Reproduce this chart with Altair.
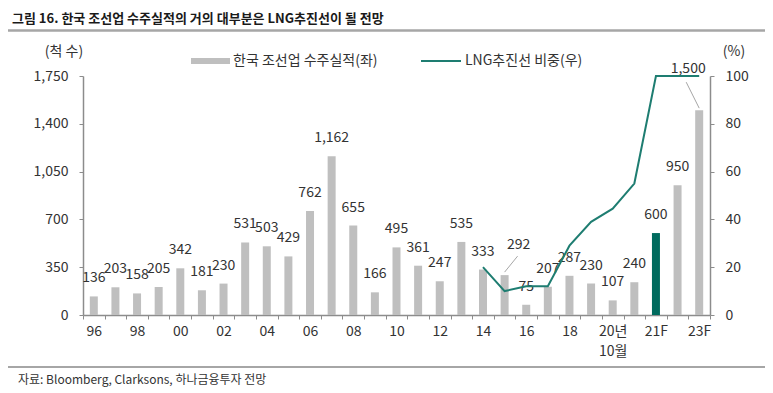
import json
import altair as alt
import pandas as pd

# ---------------- data ----------------
categories = ["96", "97", "98", "99", "00", "01", "02", "03", "04", "05", "06", "07",
              "08", "09", "10", "11", "12", "13", "14", "15", "16", "17", "18", "19",
              "20년10월", "20F", "21F", "22F", "23F"]
orders = [136, 203, 158, 205, 342, 181, 230, 531, 503, 429, 762, 1162, 655, 166,
          495, 361, 247, 535, 333, 292, 75, 207, 287, 230, 107, 240, 600, 950, 1500]
lng_share = [None] * 18 + [20, 10, 12, 12, 29, 39, 44.5, 55, 100, 100, 100]
highlight = ["21F"]
shown_labels = ["96", "98", "00", "02", "04", "06", "08", "10", "12", "14", "16", "18",
                "20년10월", "21F", "23F"]
left_ticks = [0, 350, 700, 1050, 1400, 1750]
right_ticks = [0, 20, 40, 60, 80, 100]

title_text = "그림 16. 한국 조선업 수주실적의 거의 대부분은 LNG추진선이 될 전망"
source_text = "자료: Bloomberg, Clarksons, 하나금융투자 전망"
bar_series = "한국 조선업 수주실적(좌)"
line_series = "LNG추진선 비중(우)"

df = pd.DataFrame({"cat": categories, "orders": orders, "lng": lng_share})
df["hl"] = df["cat"].isin(highlight)

FONT = "Noto Sans CJK KR"
GRAY = "#BFBFBF"
TEAL_BAR = "#006B5E"
TEAL_LINE = "#1E7D71"
AXIS_GRAY = "#8C8C8C"
TXT = "#333333"

W, H = 627, 239

label_expr = (
    "datum.label == '20년10월' ? ['20년', '10월'] : "
    f"(indexof({json.dumps(shown_labels, ensure_ascii=False)}, datum.label) >= 0 ? datum.label : '')"
)

x_enc = alt.X(
    "cat:N", sort=categories,
    scale=alt.Scale(paddingInner=0, paddingOuter=0),
    axis=alt.Axis(title=None, labelAngle=0, tickBand="extent",
                  labelExpr=label_expr, labelLineHeight=20, labelPadding=5,
                  tickSize=4, domainColor=AXIS_GRAY, tickColor=AXIS_GRAY,
                  domainWidth=1.5, labelFontSize=14, labelColor=TXT, labelFont=FONT,
                  labelBaseline="top"),
)
y_left = alt.Y(
    "orders:Q", scale=alt.Scale(domain=[0, 1750], nice=False),
    axis=alt.Axis(title=None, values=left_ticks, format=",d", grid=False, tickSize=4,
                  labelPadding=11, domainColor=AXIS_GRAY, tickColor=AXIS_GRAY,
                  domainWidth=1.5, labelFontSize=14, labelColor=TXT, labelFont=FONT),
)

base = alt.Chart(df)

bars = base.mark_bar(width=8).encode(
    x=x_enc, y=y_left,
    color=alt.condition("datum.hl", alt.value(TEAL_BAR), alt.value(GRAY)),
)

labels = base.transform_filter(
    "datum.cat != '15' && datum.cat != '23F'"
).mark_text(font=FONT, fontSize=14, color=TXT, baseline="middle", dy=-18).encode(
    x=alt.X("cat:N", sort=categories), y="orders:Q", text=alt.Text("orders:Q", format=",d"),
)
label_15 = base.transform_filter("datum.cat == '15'").mark_text(
    font=FONT, fontSize=14, color=TXT, baseline="middle", dx=14, dy=-30
).encode(x=alt.X("cat:N", sort=categories), y="orders:Q", text=alt.Text("orders:Q", format=",d"))
label_23 = base.transform_filter("datum.cat == '23F'").mark_text(
    font=FONT, fontSize=14, color=TXT, baseline="middle", dx=-11, dy=-41
).encode(x=alt.X("cat:N", sort=categories), y="orders:Q", text=alt.Text("orders:Q", format=",d"))

lead_15 = base.transform_filter("datum.cat == '15'").mark_rule(
    color="#A6A6A6", strokeWidth=1, xOffset=0, x2Offset=13, yOffset=-3, y2Offset=-19
).encode(x=alt.X("cat:N", sort=categories), x2="cat:N", y="orders:Q", y2="orders:Q")
lead_23 = base.transform_filter("datum.cat == '23F'").mark_rule(
    color="#A6A6A6", strokeWidth=1, xOffset=0, x2Offset=-13, yOffset=-2, y2Offset=-28
).encode(x=alt.X("cat:N", sort=categories), x2="cat:N", y="orders:Q", y2="orders:Q")

one = pd.DataFrame({"k": [0]})


def txt(text, x, y, size=14, weight="normal", align="left", color=TXT):
    return alt.Chart(one).mark_text(
        text=text, font=FONT, fontSize=size, fontWeight=weight, align=align,
        baseline="middle", color=color
    ).encode(x=alt.value(x), y=alt.value(y))


def hrule(x1, x2, y, color, width):
    return alt.Chart(one).mark_rule(color=color, strokeWidth=width).encode(
        x=alt.value(x1), x2=alt.value(x2), y=alt.value(y)
    )


annotations = [
    txt(title_text, -71, -57, size=13, weight="bold", color="#1a1a1a"),
    hrule(-76, 684, -45.5, "#A6A6A6", 2.5),
    txt("(척 수)", -19, -24, align="center"),
    txt("(%)", 651, -24, align="center"),
    hrule(108, 147, -15, GRAY, 6),
    txt(bar_series, 150, -15),
    hrule(338, 378, -15, TEAL_LINE, 2),
    txt(line_series, 382, -15),
    hrule(-75, 684, 291, "#A6A6A6", 2),
    txt(source_text, -65, 304, size=12),
]

left = alt.layer(bars, labels, label_15, label_23, lead_15, lead_23, *annotations)

line = base.transform_filter("isValid(datum.lng)").mark_line(
    color=TEAL_LINE, strokeWidth=2
).encode(
    x=alt.X("cat:N", sort=categories),
    y=alt.Y("lng:Q", scale=alt.Scale(domain=[0, 100], nice=False),
            axis=alt.Axis(title=None, orient="right", values=right_ticks, grid=False,
                          tickSize=4, labelPadding=11, domainColor=AXIS_GRAY,
                          tickColor=AXIS_GRAY, domainWidth=1.5, labelFontSize=14,
                          labelColor=TXT, labelFont=FONT)),
)

chart = alt.layer(left, line).resolve_scale(y="independent").properties(
    width=W, height=H,
    autosize=alt.AutoSizeParams(type="none"),
    padding={"left": 75, "top": 68, "right": 55, "bottom": 74},
).configure_view(stroke=None)

chart.save("out.html", embed_options={"renderer": "svg", "actions": False})
